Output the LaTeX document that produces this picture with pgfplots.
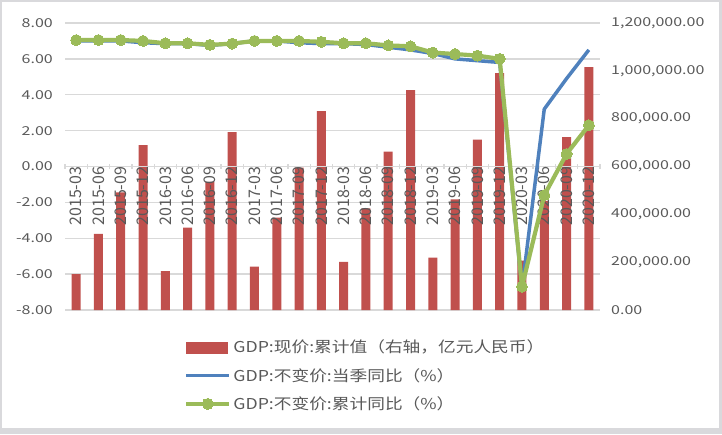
\documentclass[border=0pt]{standalone}
\usepackage{fontspec}
\usepackage{pgfplots}
\pgfplotsset{compat=1.18}
\setmainfont{Noto Sans CJK SC}
\newfontfamily\tickfont[FakeStretch=1.3]{Noto Sans CJK SC}
\newfontfamily\legfont[FakeStretch=1.18]{Noto Sans CJK SC}
\newfontfamily\rotfont{Noto Sans CJK SC}
\newcommand{\tl}[1]{#1\hspace{10pt}}
\definecolor{barred}{HTML}{C0504D}
\definecolor{blueln}{HTML}{4F81BD}
\definecolor{greenln}{HTML}{9BBB59}
\definecolor{gridgray}{HTML}{D9D9D9}
\definecolor{textgray}{HTML}{595959}
\definecolor{framegray}{HTML}{D9D9DC}
\pgfplotsset{common/.style={width=535pt,height=287pt,scale only axis,
  at={(65pt,124pt)},anchor=south west,xmin=-0.5,xmax=23.5},
  barleg/.style={legend image code/.code={\fill[barred] (0pt,-5.5pt) rectangle (41pt,5.5pt);}},
  lineleg/.style={legend image code/.code={\draw[##1] (0pt,0pt)--(43pt,0pt);}},
  markleg/.style={legend image code/.code={\draw[##1, mark repeat=2, mark phase=2] plot coordinates {(0pt,0pt) (21.5pt,0pt) (43pt,0pt)};}}}
\begin{document}
\begin{tikzpicture}
\useasboundingbox (0,0) rectangle (722pt,434pt);
\fill[framegray] (0,0) rectangle (722pt,6pt);
\fill[framegray] (0,0) rectangle (2pt,434pt);
\fill[framegray] (719pt,0) rectangle (722pt,434pt);
\fill[framegray] (0,432pt) rectangle (722pt,434pt);
% background grid and left ticks
\begin{axis}[common, ymin=-8, ymax=8,
  ytick={-8,-6,-4,-2,0,2,4,6,8},
  yticklabels={-8.00,-6.00,-4.00,-2.00,0.00,2.00,4.00,6.00,8.00},
  ymajorgrids, grid style={gridgray, line width=1.3pt},
  axis x line=none, axis y line*=left,
  y axis line style={draw=none}, ytick style={draw=none}, xtick=\empty,
  yticklabel style={font=\tickfont\fontsize{12.3}{14}\selectfont, text=textgray, anchor=east, inner sep=0pt, xshift=-12pt}]
\end{axis}
% bars on the right axis
\begin{axis}[common, ymin=0, ymax=1200000,
  axis y line*=right, axis x line=none, y axis line style={draw=none},
  ytick={0,200000,400000,600000,800000,1000000,1200000},
  yticklabels={{0.00},{200,000.00},{400,000.00},{600,000.00},{800,000.00},{1,000,000.00},{1,200,000.00}},
  scaled y ticks=false, ytick style={draw=none}, xtick=\empty,
  yticklabel style={font=\tickfont\fontsize{12.3}{14}\selectfont, text=textgray, anchor=west, inner sep=0pt, xshift=11pt},
  ybar, bar width=9pt]
\addplot[fill=barred, draw=none] coordinates {
(0,150500) (1,317800) (2,492000) (3,689000)
(4,163000) (5,344000) (6,536000) (7,744000)
(8,181000) (9,386000) (10,595000) (11,832000)
(12,200700) (13,425000) (14,662000) (15,919300)
(16,218700) (17,462800) (18,712000) (19,990900)
(20,206500) (21,456600) (22,722800) (23,1016000)};
\end{axis}
% lines, x axis and legend
\begin{axis}[common, ymin=-8, ymax=8,
  axis y line=none, axis x line*=middle,
  x axis line style={draw=gridgray, line width=1.3pt},
  xtick={0,...,23},
  xticklabels={\tl{2015-03},\tl{2015-06},\tl{2015-09},\tl{2015-12},\tl{2016-03},\tl{2016-06},\tl{2016-09},\tl{2016-12},\tl{2017-03},\tl{2017-06},\tl{2017-09},\tl{2017-12},\tl{2018-03},\tl{2018-06},\tl{2018-09},\tl{2018-12},\tl{2019-03},\tl{2019-06},\tl{2019-09},\tl{2019-12},\tl{2020-03},\tl{2020-06},\tl{2020-09},\tl{2020-12}},
  major x tick style={draw=none},
  minor xtick={-0.5,0.5,...,23.5},
  minor tick length=5pt,
  minor x tick style={draw=gridgray, line width=1.3pt, yshift=-2.5pt},
  xticklabel style={rotate=90, anchor=east, inner sep=0pt, font=\rotfont\fontsize{16}{18}\selectfont, text=textgray},
  legend style={draw=none, fill=none, at={(axis description cs:0.2168,-0.09)}, anchor=north west,
    font=\legfont\fontsize{15}{17}\selectfont, text=textgray, row sep=10pt},
  legend cell align=left]
\addlegendimage{barleg}
\addlegendentry{GDP:现价:累计值（右轴，亿元人民币）}
\addplot[blueln, line width=3.5pt, line join=round, lineleg] coordinates {
(0,7.0) (1,7.0) (2,7.0) (3,6.9)
(4,6.85) (5,6.85) (6,6.75) (7,6.85)
(8,7.0) (9,7.0) (10,6.9) (11,6.85)
(12,6.85) (13,6.8) (14,6.65) (15,6.5)
(16,6.3) (17,6.0) (18,5.9) (19,5.8)
(20,-6.8) (21,3.2) (22,4.9) (23,6.5)};
\addlegendentry{GDP:不变价:当季同比（\%）}
\addplot[greenln, line width=4.2pt, line join=round, mark=*, mark size=5.5pt,
  mark options={fill=greenln, draw=greenln, line width=0pt}, markleg] coordinates {
(0,7.05) (1,7.05) (2,7.05) (3,7.0)
(4,6.87) (5,6.87) (6,6.78) (7,6.85)
(8,7.0) (9,7.0) (10,7.0) (11,6.95)
(12,6.87) (13,6.87) (14,6.75) (15,6.7)
(16,6.35) (17,6.27) (18,6.18) (19,6.0)
(20,-6.7) (21,-1.6) (22,0.7) (23,2.3)};
\addlegendentry{GDP:不变价:累计同比（\%）}
\end{axis}
\end{tikzpicture}
\end{document}
